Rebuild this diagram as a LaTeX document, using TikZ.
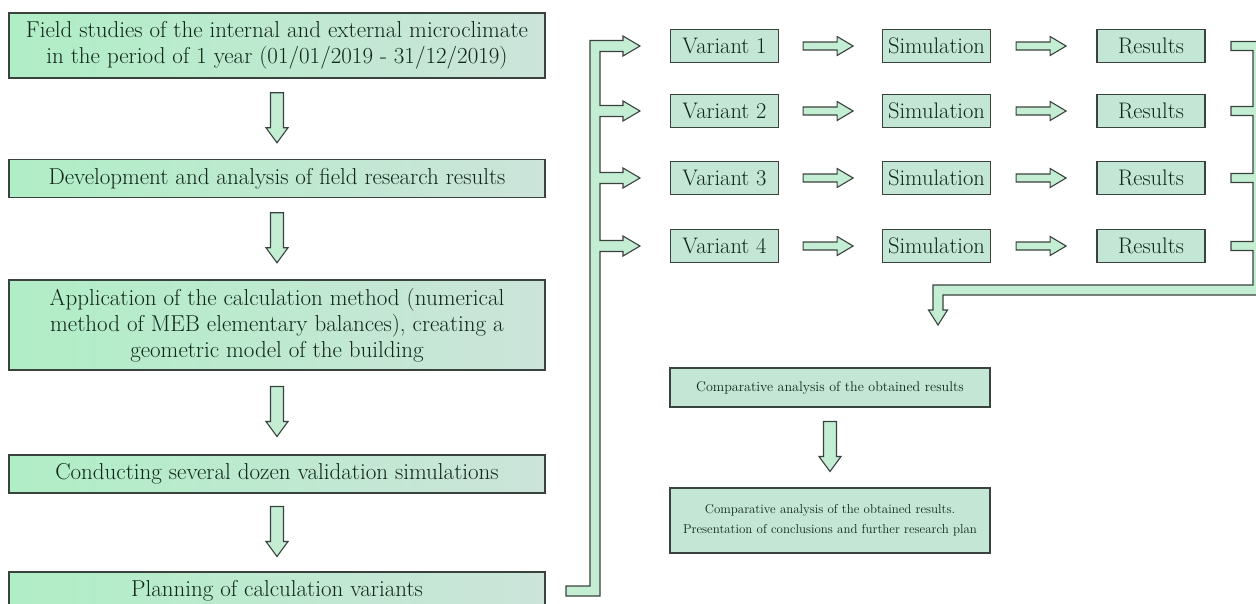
\documentclass[tikz,border=0pt]{standalone}
\usepackage{fontspec}
\usetikzlibrary{calc}

\definecolor{stageleft}{HTML}{B0EEC6}
\definecolor{stageright}{HTML}{CCE4DA}
\definecolor{cellfill}{HTML}{C3E7D4}
\definecolor{arrowfill}{HTML}{C4EED3}
\definecolor{edgegray}{HTML}{3A423E}
\definecolor{darktext}{HTML}{10261A}

\tikzset{
  stage/.style={draw=edgegray,line width=1.2pt,left color=stageleft,right color=stageright,
    minimum width=536,minimum height=38,align=center,inner sep=0pt,text=darktext,
    font=\fontsize{23}{26}\selectfont},
  cell/.style={draw=edgegray,line width=1.2pt,fill=cellfill,minimum width=108,
    minimum height=33,inner sep=0pt,text=darktext,font=\fontsize{22.5}{25}\selectfont},
  wide/.style={cell,minimum width=320,align=center,font=\fontsize{14}{20}\selectfont},
  blockarrow/.style={draw=edgegray,line width=1.1pt,fill=arrowfill,line join=miter},
  downarr/.pic={\filldraw[blockarrow] (-6.5,-26) -- (-6.5,9) -- (-11,9) -- (0,24) -- (11,9) -- (6.5,9) -- (6.5,-26) -- cycle;},
  rightarr/.pic={\filldraw[blockarrow] (0,-4) -- (34,-4) -- (34,-9.5) -- (50,0) -- (34,9.5) -- (34,4) -- (0,4) -- cycle;}
}

\begin{document}
\begin{tikzpicture}[x=1pt,y=-1pt]
\useasboundingbox (0,0) rectangle (1256,603);

% left column
\node[stage,minimum height=65] (field) at (277,45.5) {Field studies of the internal and external microclimate\\in the period of 1 year (01/01/2019 - 31/12/2019)};
\node[stage] (devel) at (277,178.5) {Development and analysis of field research results};
\node[stage,minimum height=90] (method) at (277,325) {Application of the calculation method (numerical\\method of MEB elementary balances), creating a\\geometric model of the building};
\node[stage] (valid) at (277,474) {Conducting several dozen validation simulations};
\node[stage] (plan) at (277,591) {Planning of calculation variants};

\foreach \a/\b in {field/devel,devel/method,method/valid,valid/plan}
  \path ($(\a.south)!0.5!(\b.north)$) pic {downarr};

% variants
\foreach \i/\y in {1/46,2/111,3/178,4/246} {
  \node[cell] (var\i) at (724.5,\y) {Variant \i};
  \node[cell] (sim\i) at (936.5,\y) {Simulation};
  \node[cell] (res\i) at (1151,\y) {Results};
  \path (var\i.east) ++(24,0) pic {rightarr};
  \path (sim\i.east) ++(25,0) pic {rightarr};
}

% splitting arrow
\filldraw[blockarrow] (566,586) -- (590,586) -- (590,40.5) -- (623,40.5) -- (623,36) -- (640,46)
  -- (623,56) -- (623,51.5) -- (600,51.5)
  \foreach \y in {111,178,246} { -- (600,\y-5.5) -- (623,\y-5.5) -- (623,\y-10) -- (640,\y)
    -- (623,\y+10) -- (623,\y+5.5) -- (600,\y+5.5) }
  -- (600,596) -- (566,596) -- cycle;

% merging arrow
\filldraw[blockarrow] (1231,41.5) -- (1270,41.5) -- (1270,295) -- (943,295) -- (943,310)
  -- (947.5,310) -- (938,325) -- (928.5,310) -- (933,310) -- (933,285) -- (1253,285)
  \foreach \y in {246,178,111} { -- (1253,\y+4.5) -- (1231,\y+4.5) -- (1231,\y-4.5) -- (1253,\y-4.5) }
  -- (1253,50.5) -- (1231,50.5) -- cycle;

% results
\node[wide,minimum height=39] (comp) at (830,387.5) {Comparative analysis of the obtained results};
\node[wide,minimum height=65,font=\fontsize{12.9}{20}\selectfont] (concl) at (830,520.5) {Comparative analysis of the obtained results.\\Presentation of conclusions and further research plan};
\path ($(comp.south)!0.5!(concl.north)$) pic {downarr};
\end{tikzpicture}
\end{document}
